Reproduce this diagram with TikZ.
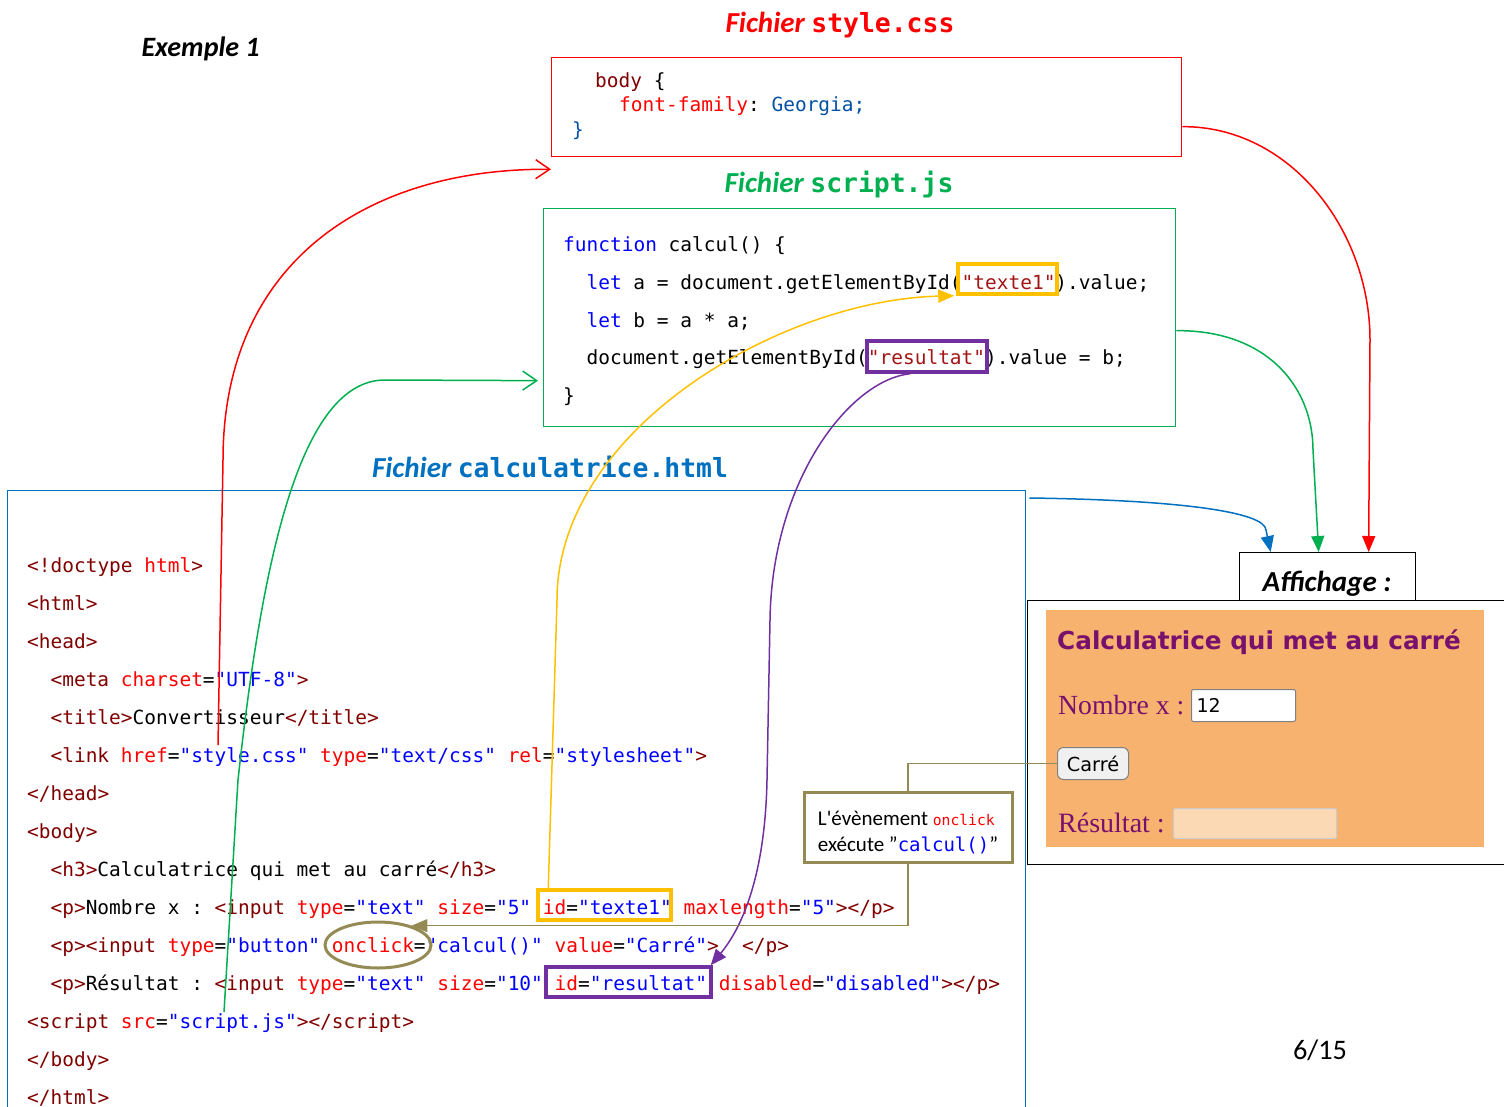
\documentclass[tikz,border=0pt]{standalone}
\usepackage{fontspec}
\setmainfont{Carlito}
\newfontfamily\codefont{DejaVu Sans Mono}
\newfontfamily\uifont{DejaVu Sans}
\newfontfamily\pagefont{Liberation Serif}
\usepackage{xcolor}
\usetikzlibrary{arrows.meta,positioning,shapes.geometric}

\definecolor{tagred}{RGB}{128,0,0}
\definecolor{attred}{RGB}{255,0,0}
\definecolor{valblue}{RGB}{0,0,255}
\definecolor{strred}{RGB}{163,21,21}
\definecolor{cssblue}{RGB}{4,81,165}
\definecolor{jsgreen}{RGB}{0,176,80}
\definecolor{htmlblue}{RGB}{0,112,192}
\definecolor{hlyellow}{RGB}{255,192,0}
\definecolor{hlpurple}{RGB}{112,48,160}
\definecolor{callolive}{RGB}{148,138,84}
\definecolor{panelorange}{RGB}{247,178,112}
\definecolor{pagepurple}{RGB}{120,16,110}
\definecolor{peach}{RGB}{251,217,181}

% colouring of the code
\newcommand\htag[1]{\textcolor{tagred}{#1}}
\newcommand\hattr[1]{\textcolor{attred}{#1}}
\newcommand\hval[1]{\textcolor{valblue}{#1}}
\newcommand\jskw[1]{\textcolor{valblue}{#1}}
\newcommand\jsstr[1]{\textcolor{strred}{#1}}
\newcommand\fichier[1]{{\bfseries\itshape\fontsize{29}{32}\selectfont Fichier\ }{\codefont\bfseries\fontsize{26.4}{32}\selectfont #1}}

\begin{document}
\begin{tikzpicture}[x=1pt,y=-1pt,>={Triangle[length=16pt,width=13pt]},
  codeline/.style={anchor=base west,inner sep=0pt,font=\codefont\frenchspacing\fontsize{19.47}{24}\selectfont},
  cadre/.style={draw,line width=1.3pt,inner sep=0pt,anchor=north west},
  surligne/.style={draw,line width=3.5pt,inner sep=0pt},
  lien/.style={line width=1.5pt},
  barb/.style={-{Straight Barb[length=14pt,width=19pt]}}]
\useasboundingbox (0,0) rectangle (1504,1106);
\clip (0,0) rectangle (1504,1106);

\node[anchor=base west,font=\bfseries\itshape\fontsize{28}{30}\selectfont] (exemple) at (138,56) {Exemple 1};

% the three files
\node[anchor=base,text=red] (csstitre) at (840,32) {\fichier{style.css}};
\node[cadre,draw=red,minimum width=630pt,minimum height=99pt] (css) at (551,57) {};
\node[codeline] (c1) at (595,87) {\textcolor{tagred}{body} \{};
\node[codeline] (c2) at (619,111.5) {\textcolor{attred}{font-family}: \textcolor{cssblue}{Georgia;}};
\node[codeline] (c3) at (572,136) {\textcolor{cssblue}{\}}};

\node[anchor=base,text=jsgreen] (jstitre) at (839,192) {\fichier{script.js}};
\node[cadre,draw=jsgreen,minimum width=632pt,minimum height=218pt] (js) at (543,208) {};
\node[codeline] (j1) at (563,251) {\jskw{function} calcul() \{};
\node[codeline] (j2) at (586.4,289) {\jskw{let} a = document.getElementById(\jsstr{"texte1"}).value;};
\node[codeline] (j3) at (586.4,327) {\jskw{let} b = a * a;};
\node[codeline] (j4) at (586.4,364) {document.getElementById(\jsstr{"resultat"}).value = b;};
\node[codeline] (j5) at (563,402) {\}};

\node[anchor=base,text=htmlblue] (htmltitre) at (550,477) {\fichier{calculatrice.html}};
\node[cadre,draw=htmlblue,minimum width=1018pt,minimum height=640pt] (html) at (7,490) {};
\node[codeline] (l1) at (27,572) {\htag{<!doctype} \hattr{html}\htag{>}};
\node[codeline] (l2) at (27,610) {\htag{<html>}};
\node[codeline] (l3) at (27,648) {\htag{<head>}};
\node[codeline] (l4) at (50.4,686) {\htag{<meta} \hattr{charset}=\hval{"UTF-8"}\htag{>}};
\node[codeline] (l5) at (50.4,724) {\htag{<title>}Convertisseur\htag{</title>}};
\node[codeline] (l6) at (50.4,762) {\htag{<link} \hattr{href}=\hval{"style.css"} \hattr{type}=\hval{"text/css"} \hattr{rel}=\hval{"stylesheet"}\htag{>}};
\node[codeline] (l7) at (27,800) {\htag{</head>}};
\node[codeline] (l8) at (27,838) {\htag{<body>}};
\node[codeline] (l9) at (50.4,876) {\htag{<h3>}Calculatrice qui met au carré\htag{</h3>}};
\node[codeline] (l10) at (50.4,914) {\htag{<p>}Nombre x : \htag{<input} \hattr{type}=\hval{"text"} \hattr{size}=\hval{"5"} \hattr{id}=\hval{"texte1"} \hattr{maxlength}=\hval{"5"}\htag{></p>}};
\node[codeline] (l11) at (50.4,952) {\htag{<p><input} \hattr{type}=\hval{"button"} \hattr{onclick}=\hval{"calcul()"} \hattr{value}=\hval{"Carré"}\htag{>}\ \ \htag{</p>}};
\node[codeline] (l12) at (50.4,990) {\htag{<p>}Résultat : \htag{<input} \hattr{type}=\hval{"text"} \hattr{size}=\hval{"10"} \hattr{id}=\hval{"resultat"} \hattr{disabled}=\hval{"disabled"}\htag{></p>}};
\node[codeline] (l13) at (27,1028) {\htag{<script} \hattr{src}=\hval{"script.js"}\htag{></script>}};
\node[codeline] (l14) at (27,1066) {\htag{</body>}};
\node[codeline] (l15) at (27,1104) {\htag{</html>}};

% marked pieces of code
\node[surligne,draw=hlyellow,minimum width=99pt,minimum height=30pt] (jstexte) at (1007.5,279) {};
\node[surligne,draw=hlpurple,minimum width=120pt,minimum height=31pt] (jsres) at (927,356.5) {};
\node[surligne,draw=hlyellow,minimum width=133pt,minimum height=30pt] (hltexte) at (604.5,905) {};
\node[surligne,draw=hlpurple,minimum width=165pt,minimum height=30pt] (hlres) at (628.5,982) {};
\node[ellipse,draw=callolive,line width=3pt,minimum width=106pt,minimum height=46pt] (onclk) at (378,945) {};
\coordinate (hrefcss) at (218,745);
\coordinate (srcjs) at (224,1012);

% what the browser shows
\node[cadre,draw=black,minimum width=176pt,minimum height=48pt] (affich) at (1239,552) {};
\node[anchor=base,font=\bfseries\itshape\fontsize{29}{32}\selectfont] (affichtxt) at (1327,591) {Affichage :};
\node[cadre,draw=black,fill=white,minimum width=520pt,minimum height=264pt] (ecran) at (1027,600) {};
\node[anchor=north west,fill=panelorange,inner sep=0pt,minimum width=438pt,minimum height=237pt] (panel) at (1046,610) {};
\node[anchor=base west,inner sep=0pt,text=pagepurple,font=\uifont\bfseries\fontsize{24.7}{30}\selectfont] (titre) at (1057,649) {Calculatrice qui met au carré};
\node[anchor=base west,inner sep=0pt,text=pagepurple,font=\pagefont\fontsize{27.7}{30}\selectfont] (nombre) at (1058,714) {Nombre x :};
\node[anchor=north west,draw=gray,line width=1pt,fill=white,rounded corners=2pt,minimum height=32pt,text width=94pt,inner xsep=5pt,align=left,font=\uifont\fontsize{19}{22}\selectfont] (saisie) at (1191,689) {12};
\node[anchor=north west,draw=gray,line width=1pt,fill=gray!12,rounded corners=6pt,minimum width=71pt,minimum height=32pt,inner sep=0pt,font=\uifont\fontsize{19.3}{22}\selectfont] (carre) at (1057,747) {Carré};
\node[anchor=base west,inner sep=0pt,text=pagepurple,font=\pagefont\fontsize{28}{30}\selectfont] (resultat) at (1058,832) {Résultat :};
\node[anchor=north west,draw=gray!40,line width=1pt,fill=peach,rounded corners=2pt,minimum width=163pt,minimum height=30pt] (sortie) at (1173,808) {};

% links between the files
\draw[lien,red,barb] (hrefcss) -- (223,460) .. controls (223,260) and (370,168) .. ([yshift=-12pt]css.south west);
\draw[lien,red,->] ([yshift=-19.5pt]css.east) .. controls (1290,126) and (1370,230) .. (1370,340) -- ([xshift=41pt]affich.north);
\draw[lien,jsgreen,barb] (srcjs) -- (238,780) .. controls (262,560) and (300,380) .. (385,380) -- ([shift={(-5pt,-63pt)}]js.west);
\draw[lien,jsgreen,->] ([yshift=-13pt]js.east) .. controls (1270,330) and (1313,390) .. (1313,450) -- ([xshift=-9pt]affich.north);
\draw[lien,htmlblue,->] ([shift={(3pt,-8pt)}]html.north east) .. controls (1180,500) and (1265,512) .. (1266,530) -- ([xshift=-57pt]affich.north);
\draw[lien,hlyellow,->] ([xshift=12pt]hltexte.north west) -- (557,600) .. controls (557,430) and (780,300) .. ([xshift=-2pt]jstexte.south west);
\draw[lien,hlpurple,->] ([xshift=-17pt]jsres.south) .. controls (850,380) and (772,480) .. (770,620) -- (767,780) .. controls (765,880) and (740,930) .. ([xshift=-2pt]hlres.north east);

% the onclick note
\node[draw=callolive,line width=3pt,fill=white,minimum width=208pt,minimum height=70pt,align=left,font=\fontsize{21}{26}\selectfont] (note) at (908,827)
  {\rule{0pt}{25pt}L\textquotesingle évènement {\codefont\fontsize{14.7}{26}\selectfont\textcolor{attred}{onclick}}\\exécute "\textcolor{valblue}{\codefont\fontsize{19}{26}\selectfont calcul()}"};
\draw[lien,callolive] (carre.west) -| (note.north);
\draw[lien,callolive,->] (note.south) |- (onclk.30);

\node[anchor=base,font=\fontsize{28.3}{30}\selectfont] (page) at (1320,1059) {6/15};
\end{tikzpicture}
\end{document}
